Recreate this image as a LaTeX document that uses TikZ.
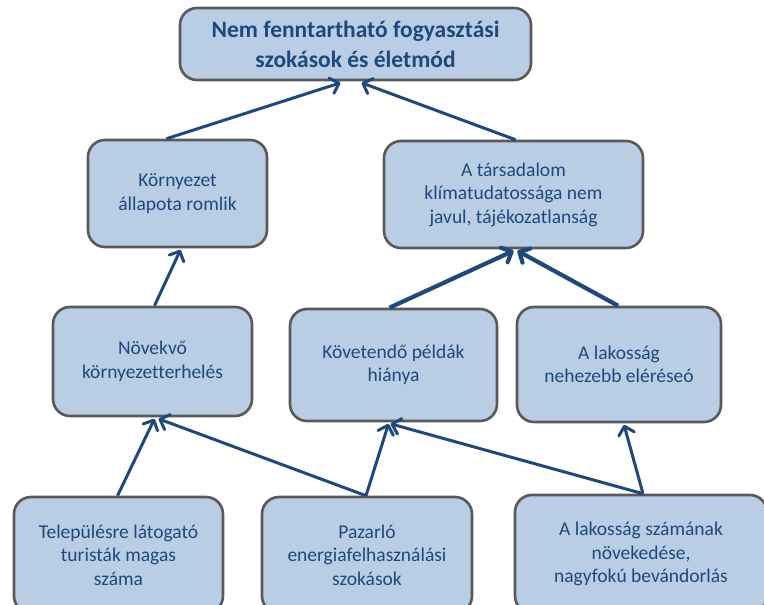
\documentclass[tikz,border=0pt]{standalone}
\usepackage{fontspec}
\setmainfont{Carlito}[Ligatures=NoCommon]
\usepackage{xcolor}
\usepackage{tikz}
\usetikzlibrary{positioning,arrows.meta}
\definecolor{boxfill}{HTML}{B9CDE5}
\definecolor{boxline}{HTML}{595959}
\definecolor{ink}{HTML}{1F497D}

\begin{document}
\begin{tikzpicture}[x=1pt,y=-1pt,
	box/.style={draw=boxline,fill=boxfill,line width=2.6pt,rounded corners=17pt,
		align=center,text=ink,inner sep=0pt,font=\fontsize{19.5}{23.5}\selectfont},
	link/.style={draw=ink,line width=3pt,-{Straight Barb[round,length=8pt,width=16pt]}},
	biglink/.style={link,line width=4.2pt}]
	\clip (0,0) rectangle (764,605);
	
	% top
	\node[box,minimum width=351pt,minimum height=72pt,font=\bfseries\fontsize{23.5}{30}\selectfont]
		(goal) at (355.5,44) {Nem fenntartható fogyasztási\\szokások és életmód};
	
	% second row
	\node[box,minimum width=179pt,minimum height=107pt] (env) at (177.5,193.5)
		{Környezet\\állapota romlik};
	\node[box,minimum width=259pt,minimum height=107pt] (aware) at (513.5,194.5)
		{A társadalom\\klímatudatossága nem\\javul, tájékozatlanság};
	
	% third row
	\node[box,minimum width=199pt,minimum height=109pt] (load) at (152.5,361.5)
		{Növekvő\\környezetterhelés};
	\node[box,minimum width=207pt,minimum height=112pt] (model) at (393.5,365)
		{Követendő példák\\hiánya};
	\node[box,minimum width=204pt,minimum height=115pt] (reach) at (619,364.5)
		{A lakosság\\nehezebb eléréseó};
	
	% bottom: cut by the frame
	\node[box,minimum width=209pt,minimum height=116pt] (tour) at (118.5,555)
		{Településre látogató\\turisták magas\\száma};
	\node[box,minimum width=210pt,minimum height=116pt] (energy) at (367,555)
		{Pazarló\\energiafelhasználási\\szokások};
	\node[box,minimum width=252pt,minimum height=118pt] (pop) at (641,554)
		{A lakosság számának\\növekedése,\\nagyfokú bevándorlás};
	
	% arrows
	\draw[link] ([xshift=-11pt]env.north) -- ([xshift=-15pt,yshift=-1.5pt]goal.south);
	\draw[link] ([xshift=2pt]aware.north) -- ([xshift=6pt,yshift=-1.5pt]goal.south);
	\draw[link] ([xshift=2pt]load.north) -- ([xshift=3pt,yshift=-1.5pt]env.south);
	\draw[biglink] ([xshift=-4pt]model.north) -- ([xshift=0pt,yshift=-1.5pt]aware.south);
	\draw[biglink] ([xshift=-1pt]reach.north) -- ([xshift=4pt,yshift=-1.5pt]aware.south);
	\draw[link] ([xshift=-1pt]tour.north) -- ([xshift=2pt,yshift=-1.5pt]load.south);
	\draw[link] ([xshift=-1pt]energy.north) -- ([xshift=6pt,yshift=-1.5pt]load.south);
	\draw[link] ([xshift=-1pt]energy.north) -- ([xshift=-5pt,yshift=-1.5pt]model.south);
	\draw[link] ([xshift=2pt]pop.north) -- ([xshift=-3pt,yshift=-1.5pt]model.south);
	\draw[link] ([xshift=2pt]pop.north) -- ([xshift=5pt,yshift=-1.5pt]reach.south);
\end{tikzpicture}
\end{document}
